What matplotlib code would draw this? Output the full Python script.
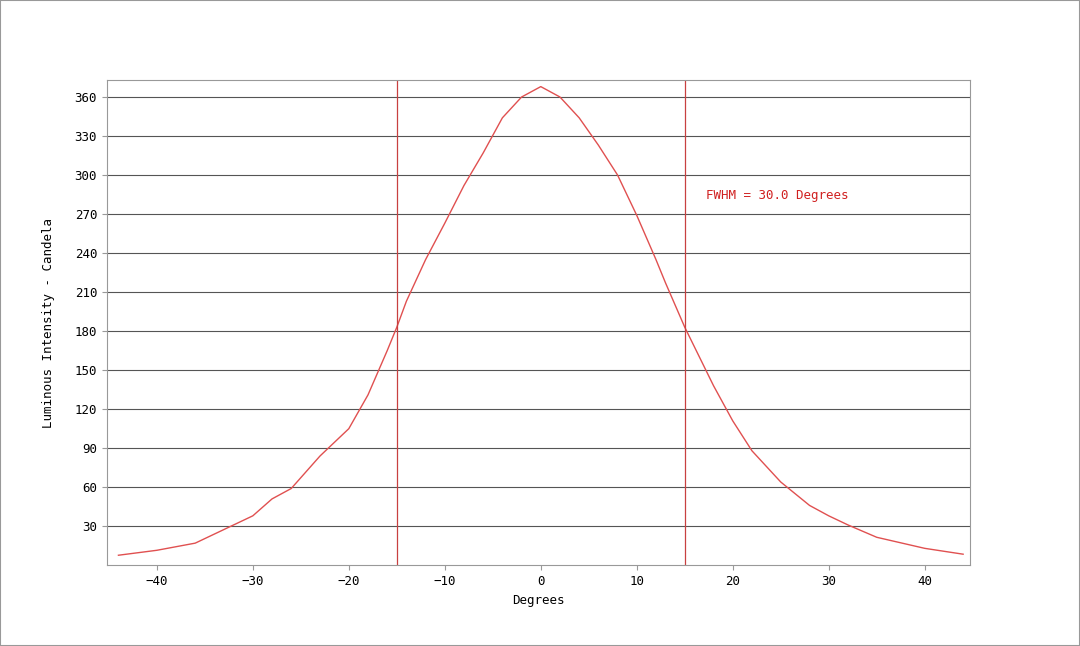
import matplotlib
matplotlib.use("Agg")
import matplotlib.pyplot as plt
import numpy as np

deg = [-44, -40, -36, -32, -30, -28, -26, -23, -20, -18, -16, -15, -14, -12, -10, -8, -6, -4, -2, 0,
       2, 4, 6, 8, 10, 12, 13, 15, 18, 20, 22, 25, 28, 30, 32, 35, 40, 44]
cd = [7.7, 11.5, 17, 31, 38, 51, 59, 84, 105, 131, 165, 183, 203, 235, 263, 292, 317, 344, 360, 368,
      360, 344, 323, 300, 269, 235, 217, 183, 138, 111, 88, 64, 46, 38, 31, 21.5, 13, 8.5]
yticks = [30, 60, 90, 120, 150, 180, 210, 240, 270, 300, 330, 360]
xticks = [-40, -30, -20, -10, 0, 10, 20, 30, 40]
fwhm_lines = [-15, 15]

fig = plt.figure(figsize=(10.8, 6.46), dpi=100)
fig.patches.append(plt.Rectangle((0, 0), 1, 1, transform=fig.transFigure, fill=False, ec="#999999", lw=1.5))
ax = fig.add_axes([0.099, 0.125, 0.799, 0.751])
mono = "DejaVu Sans Mono"
ax.plot(deg, cd, color="#e05050", lw=1)
for v in fwhm_lines:
    ax.axvline(v, color="#c84040", lw=0.9)
ax.set_xlim(-45.2, 44.7)
ax.set_ylim(0, 373)
ax.set_yticks(yticks)
ax.set_xticks(xticks)
ax.grid(axis="y", color="#555555", lw=0.8)
ax.set_axisbelow(True)
for s in ax.spines.values():
    s.set_color("#999999")
ax.tick_params(labelsize=9, color="#999999")
for lab in ax.get_xticklabels() + ax.get_yticklabels():
    lab.set_family(mono)
ax.set_xlabel("Degrees", family=mono, fontsize=9)
ax.set_ylabel("Luminous Intensity - Candela", family=mono, fontsize=9, labelpad=14)
ax.text(17.2, 284, "FWHM = 30.0 Degrees", color="#d02020", family=mono, fontsize=9, va="center")
fig.savefig("out.png", dpi=100)
